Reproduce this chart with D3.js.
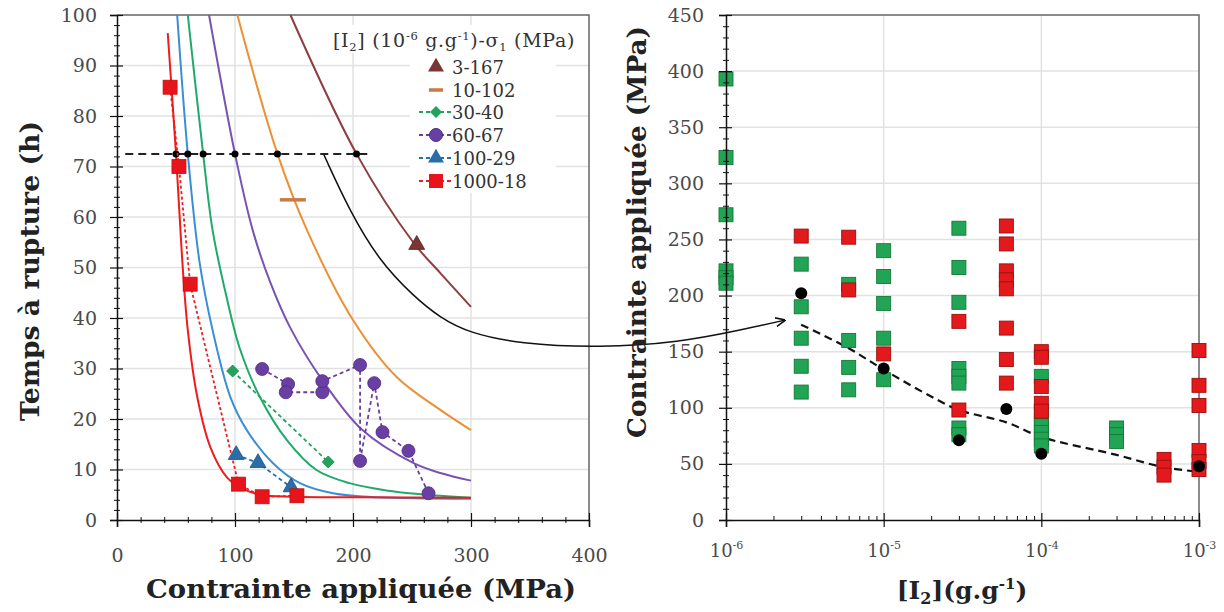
<!DOCTYPE html>
<html><head><meta charset="utf-8">
<script src="https://cdn.jsdelivr.net/npm/d3@7"></script>
<style>
html,body{margin:0;padding:0;background:#fff;}
svg{display:block;}
</style></head>
<body>
<svg id="c" width="1224" height="612"></svg>
<script>
// ---------- Left chart data (Contrainte MPa, Temps h) ----------
const fitRed    = [[43,96.4],[50,72.5],[55,52.5],[60,37.6],[68,24.4],[79,14.5],[93,8.5],[104,6.5],[121,5.0],[150,4.6],[200,4.5],[300,4.4]];
const fitBlue   = [[51,100],[60,72.5],[70,51],[81,37.6],[96,24.4],[110,17.8],[132,11.3],[155,7.3],[183,5.3],[220,4.5],[300,4.2]];
const fitGreen  = [[60,100],[73,72.5],[81,57.4],[93,44],[104,34],[121,24.4],[144,15.8],[169,9.9],[197,7.3],[230,5.8],[257,5.1],[300,4.4]];
const fitPurple = [[78,100],[100,72.5],[115,57.4],[130,47],[147,38],[174,27.7],[208,17.8],[251,11.3],[274,9.3],[300,7.8]];
const fitOrange = [[102,100],[136,72.5],[161,57.4],[200,39.6],[237,28.3],[274,21.8],[300,17.8]];
const fitBrown  = [[147,100],[203,72.5],[251,55],[274,48.9],[300,42.2]];

const ptsRed    = [[45,85.7],[52.5,70],[62,46.7],[103,7.1],[123,4.6],[152.5,4.8]];
const ptsBlue   = [[101,12.9],[119.5,11.3],[147.5,6.5]];
const ptsGreen  = [[98,29.5],[179,11.5]];
const ptsPurple = [[123,29.9],[145,26.9],[143,25.3],[174,25.3],[174,27.5],[206,30.7],[206,11.7],[218,27.1],[225,17.4],[247,13.7],[264,5.3]];
const ptsBrown  = [[254,54.5]];
const ptsOrange = [[149,63.4]];

const level72 = 72.5;
const level72Range = [7, 216];
const level72Dots = [50, 60, 73, 100, 136, 203];

const legendLabels = ["3-167","10-102","30-40","60-67","100-29","1000-18"];

// ---------- Right chart data ([I2] g/g, Contrainte MPa) ----------
const greenX = [1e-6,1e-6,1e-6,1e-6,1e-6,1e-6, 3e-6,3e-6,3e-6,3e-6,3e-6, 6e-6,6e-6,6e-6,6e-6, 1e-5,1e-5,1e-5,1e-5,1e-5, 3e-5,3e-5,3e-5,3e-5,3e-5,3e-5,3e-5,3e-5, 1e-4,1e-4,1e-4,1e-4,1e-4,1e-4, 3e-4,3e-4,3e-4];
const greenY = [393,323,272,222,216,211, 228,190,162,137,114, 210,160,136,116, 240,217,193,162,125, 260,225,194,135,128,122,82,76, 128,90,84,78,72,66, 82,76,70];
const redX = [3e-6, 6e-6,6e-6, 1e-5, 3e-5,3e-5, 6e-5,6e-5,6e-5,6e-5,6e-5,6e-5,6e-5,6e-5, 1e-4,1e-4,1e-4,1e-4,1e-4, 6e-4,6e-4,6e-4, 1e-3,1e-3,1e-3,1e-3,1e-3,1e-3];
const redY = [253, 252,205, 148, 177,98, 262,246,222,214,206,171,143,122, 150,145,119,104,97, 54,47,40, 151,120,102,62,52,45];
const blackX = [3e-6,1e-5,3e-5,6e-5,1e-4,1e-3];
const blackY = [202,135,71,99,59,48];
const trendX = [3e-6,6e-6,1e-5,2e-5,3e-5,6e-5,1e-4,3e-4,6e-4,1e-3];
const trendY = [174,153,134,110,98,87,74,58,47,43];

// Arrow annotation: starts on the left chart (MPa, h), ends on right chart ([I2], MPa)
const arrowLeft = [[175,72.5],[197.5,61],[223,51.1],[251,44.4],[274,40],[299,37],[341,34.9],[409,34.1],[477,35.2],[528,37.6]];
const arrowEnd = [2.35e-6, 178];

// ---------- Setup ----------
const svg = d3.select("#c");
const SERIF = "'DejaVu Serif', serif";
const xL = d3.scaleLinear([0,400],[117,589]);
const yL = d3.scaleLinear([0,100],[520,15]);
const xR = d3.scaleLog([1e-6,1e-3],[726,1199]);
const yR = d3.scaleLinear([0,450],[520,15]);

const C = {
  red:"#ee1c1c", redFill:"#e8141c",
  blue:"#3a8fd4", blueFill:"#2a6ea8",
  green:"#1faa6a", greenFill:"#22a35c",
  purple:"#7a52b3", purpleFill:"#6a3fa4", purpleStroke:"#4a2a80",
  orange:"#ee8f33", orangeMark:"#c97a45",
  brown:"#8e3e3e", brownFill:"#7b3535",
  sqGreen:"#21a455", sqGreenStroke:"#127a33",
  sqRed:"#e3191c", sqRedStroke:"#9a1010",
  grid:"#e2e2e2"
};

// ---------- Gridlines ----------
const gL = svg.append("g");
gL.selectAll("line.h").data(d3.range(10,100,10)).join("line")
  .attr("x1",xL(0)).attr("x2",xL(400)).attr("y1",d=>yL(d)).attr("y2",d=>yL(d))
  .attr("stroke",C.grid).attr("stroke-width",1.5);
gL.selectAll("line.v").data([100,200,300]).join("line")
  .attr("y1",yL(0)).attr("y2",yL(100)).attr("x1",d=>xL(d)).attr("x2",d=>xL(d))
  .attr("stroke",C.grid).attr("stroke-width",1.5);

const gR = svg.append("g");
gR.selectAll("line.h").data(d3.range(50,450,50)).join("line")
  .attr("x1",xR(1e-6)).attr("x2",xR(1e-3)).attr("y1",d=>yR(d)).attr("y2",d=>yR(d))
  .attr("stroke",C.grid).attr("stroke-width",1.5);
gR.selectAll("line.v").data([1e-5,1e-4]).join("line")
  .attr("y1",yR(0)).attr("y2",yR(450)).attr("x1",d=>xR(d)).attr("x2",d=>xR(d))
  .attr("stroke",C.grid).attr("stroke-width",1.5);

// ---------- Frames ----------
svg.append("path").attr("d",`M${xL(0)},${yL(100)}H${xL(400)}V${yL(0)}`).attr("fill","none").attr("stroke","#666").attr("stroke-width",1.5);
svg.append("path").attr("d",`M${xR(1e-6)},${yR(450)}H${xR(1e-3)}V${yR(0)}`).attr("fill","none").attr("stroke","#666").attr("stroke-width",1.5);

// ---------- Left chart: legend background ----------
svg.append("rect").attr("x",330).attr("y",25).attr("width",258).attr("height",28).attr("fill","#fff");
svg.append("rect").attr("x",410).attr("y",53).attr("width",146).attr("height",140).attr("fill","#fff");

// ---------- Left chart: curves ----------
const lineL = d3.line().x(d=>xL(d[0])).y(d=>yL(d[1])).curve(d3.curveCatmullRom.alpha(0.5));
const lineLin = d3.line().x(d=>xL(d[0])).y(d=>yL(d[1]));
const fits = [[fitBrown,C.brown],[fitOrange,C.orange],[fitPurple,C.purple],[fitGreen,C.green],[fitBlue,C.blue],[fitRed,C.red]];
fits.forEach(([d,c])=>{
  svg.append("path").attr("d",lineL(d)).attr("fill","none").attr("stroke",c).attr("stroke-width",2);
});

// Black arrow annotation
const defs = svg.append("defs");
defs.append("marker").attr("id","ah").attr("viewBox","0 0 10 10").attr("refX",9).attr("refY",5)
  .attr("markerWidth",10).attr("markerHeight",10).attr("markerUnits","userSpaceOnUse").attr("orient","auto")
  .append("path").attr("d","M0,0.5L10,5L0,9.5").attr("fill","none").attr("stroke","#111").attr("stroke-width",1.6);
const arrowPts = arrowLeft.map(d=>[xL(d[0]),yL(d[1])]).concat([[xR(arrowEnd[0]),yR(arrowEnd[1])]]);
svg.append("path").attr("d",d3.line().curve(d3.curveBasis)(arrowPts))
  .attr("fill","none").attr("stroke","#111").attr("stroke-width",1.5).attr("marker-end","url(#ah)");

// 72.5 h dashed level
svg.append("line").attr("x1",xL(level72Range[0])).attr("x2",xL(level72Range[1]))
  .attr("y1",yL(level72)).attr("y2",yL(level72))
  .attr("stroke","#222").attr("stroke-width",2).attr("stroke-dasharray","8,5");
svg.selectAll("circle.l72").data(level72Dots).join("circle")
  .attr("cx",d=>xL(d)).attr("cy",yL(level72)).attr("r",3.5).attr("fill","#000");

// Data series lines
svg.append("path").attr("d",lineLin(ptsGreen)).attr("fill","none").attr("stroke",C.greenFill).attr("stroke-width",1.8).attr("stroke-dasharray","4,3");
svg.append("path").attr("d",lineLin(ptsPurple)).attr("fill","none").attr("stroke",C.purpleFill).attr("stroke-width",1.8).attr("stroke-dasharray","4,3");
svg.append("path").attr("d",lineLin(ptsBlue)).attr("fill","none").attr("stroke",C.blueFill).attr("stroke-width",1.8).attr("stroke-dasharray","4,3");
svg.append("path").attr("d",lineLin(ptsRed)).attr("fill","none").attr("stroke",C.red).attr("stroke-width",1.8).attr("stroke-dasharray","3,2.5");

// Markers
const diamond = d3.symbol().type(d3.symbolSquare).size(72);
svg.selectAll("path.gd").data(ptsGreen).join("path")
  .attr("d",diamond).attr("transform",d=>`translate(${xL(d[0])},${yL(d[1])}) rotate(45)`)
  .attr("fill",C.greenFill).attr("stroke","#138a45").attr("stroke-width",0.8);
svg.selectAll("circle.pc").data(ptsPurple).join("circle")
  .attr("cx",d=>xL(d[0])).attr("cy",d=>yL(d[1])).attr("r",6.5)
  .attr("fill",C.purpleFill).attr("stroke",C.purpleStroke).attr("stroke-width",0.8);
const tri = d3.symbol().type(d3.symbolTriangle).size(110);
svg.selectAll("path.bt").data(ptsBlue).join("path")
  .attr("d",tri).attr("transform",d=>`translate(${xL(d[0])},${yL(d[1])})`)
  .attr("fill",C.blueFill).attr("stroke","#1a4f80").attr("stroke-width",0.8);
svg.selectAll("rect.rs").data(ptsRed).join("rect")
  .attr("x",d=>xL(d[0])-7).attr("y",d=>yL(d[1])-7).attr("width",14).attr("height",14)
  .attr("fill",C.redFill).attr("stroke","#c01010").attr("stroke-width",0.8);
svg.selectAll("path.brt").data(ptsBrown).join("path")
  .attr("d",tri).attr("transform",d=>`translate(${xL(d[0])},${yL(d[1])})`)
  .attr("fill",C.brownFill).attr("stroke","#5a2020").attr("stroke-width",0.8);
svg.selectAll("line.om").data(ptsOrange).join("line")
  .attr("x1",d=>xL(d[0])-13).attr("x2",d=>xL(d[0])+13).attr("y1",d=>yL(d[1])).attr("y2",d=>yL(d[1]))
  .attr("stroke",C.orangeMark).attr("stroke-width",3.5);

// ---------- Legend ----------
const lg = svg.append("g").attr("font-family",SERIF).attr("fill","#333");
const lt = lg.append("text").attr("x",333).attr("y",47).attr("font-size",19).attr("letter-spacing",0.7);
lt.append("tspan").text("[I");
lt.append("tspan").attr("font-size",11.5).attr("dy",4).text("2");
lt.append("tspan").attr("dy",-4).text("] (10");
lt.append("tspan").attr("font-size",11.5).attr("dy",-7).text("-6");
lt.append("tspan").attr("dy",7).text(" g.g");
lt.append("tspan").attr("font-size",11.5).attr("dy",-7).text("-1");
lt.append("tspan").attr("dy",7).text(")-σ");
lt.append("tspan").attr("font-size",11.5).attr("dy",4).text("1");
lt.append("tspan").attr("dy",-4).text(" (MPa)");

const legRowY = [67,90,112,135,158,181];
const mx = 436;
legendLabels.forEach((lab,i)=>{
  const y = legRowY[i];
  lg.append("text").attr("x",452).attr("y",y+6.5).attr("font-size",18).text(lab);
});
lg.append("path").attr("d",tri).attr("transform",`translate(${mx},${legRowY[0]})`).attr("fill",C.brownFill);
lg.append("line").attr("x1",mx-7).attr("x2",mx+7).attr("y1",legRowY[1]).attr("y2",legRowY[1]).attr("stroke",C.orangeMark).attr("stroke-width",3.5);
[[2,C.greenFill],[3,C.purpleFill],[4,C.blueFill],[5,C.red]].forEach(([i,c])=>{
  lg.append("line").attr("x1",mx-17).attr("x2",mx+16).attr("y1",legRowY[i]).attr("y2",legRowY[i])
    .attr("stroke",c).attr("stroke-width",1.8).attr("stroke-dasharray","4,3");
});
lg.append("path").attr("d",diamond).attr("transform",`translate(${mx},${legRowY[2]}) rotate(45)`).attr("fill",C.greenFill);
lg.append("circle").attr("cx",mx).attr("cy",legRowY[3]).attr("r",6.5).attr("fill",C.purpleFill).attr("stroke",C.purpleStroke);
lg.append("path").attr("d",tri).attr("transform",`translate(${mx},${legRowY[4]})`).attr("fill",C.blueFill);
lg.append("rect").attr("x",mx-7).attr("y",legRowY[5]-7).attr("width",14).attr("height",14).attr("fill",C.redFill);

// ---------- Right chart marks ----------
svg.append("path").attr("d",d3.line().x(d=>xR(d[0])).y(d=>yR(d[1])).curve(d3.curveCatmullRom.alpha(0.5))(trendX.map((x,i)=>[x,trendY[i]])))
  .attr("fill","none").attr("stroke","#111").attr("stroke-width",2.2).attr("stroke-dasharray","8,5");
svg.selectAll("rect.gs").data(greenX.map((x,i)=>[x,greenY[i]])).join("rect")
  .attr("x",d=>xR(d[0])-7).attr("y",d=>yR(d[1])-7).attr("width",14).attr("height",14)
  .attr("fill",C.sqGreen).attr("stroke",C.sqGreenStroke).attr("stroke-width",0.9);
svg.selectAll("rect.rq").data(redX.map((x,i)=>[x,redY[i]])).join("rect")
  .attr("x",d=>xR(d[0])-7).attr("y",d=>yR(d[1])-7).attr("width",14).attr("height",14)
  .attr("fill",C.sqRed).attr("stroke",C.sqRedStroke).attr("stroke-width",0.9);
svg.selectAll("circle.bk").data(blackX.map((x,i)=>[x,blackY[i]])).join("circle")
  .attr("cx",d=>xR(d[0])).attr("cy",d=>yR(d[1])).attr("r",6).attr("fill","#000");

// ---------- Axes ----------
const TICKFS = 19;
function styleAxis(g){
  g.select(".domain").attr("stroke","#111").attr("stroke-width",1.5);
  g.selectAll(".tick line").attr("stroke","#111").attr("stroke-width",1.2);
  g.selectAll(".tick text").attr("font-family",SERIF).attr("font-size",TICKFS).attr("fill","#4a4a4a");
}
// Left Y
const ayL = svg.append("g").attr("transform",`translate(${xL(0)},0)`)
  .call(d3.axisLeft(yL).tickValues(d3.range(0,101,10)).tickSize(7).tickPadding(13).tickFormat(d3.format("d")));
styleAxis(ayL); ayL.selectAll(".tick line").attr("x1",6);
const ayLm = svg.append("g").attr("transform",`translate(${xL(0)},0)`)
  .call(d3.axisLeft(yL).tickValues(d3.range(2,100,2).filter(v=>v%10)).tickSize(3).tickFormat(""));
ayLm.select(".domain").remove(); ayLm.selectAll(".tick line").attr("stroke","#111").attr("x1",3);
// Left X
const axL = svg.append("g").attr("transform",`translate(0,${yL(0)})`)
  .call(d3.axisBottom(xL).tickValues(d3.range(0,401,100)).tickSize(7).tickPadding(22).tickFormat(d3.format("d")));
styleAxis(axL); axL.selectAll(".tick line").attr("y1",-7);
const axLm = svg.append("g").attr("transform",`translate(0,${yL(0)})`)
  .call(d3.axisBottom(xL).tickValues(d3.range(20,400,20).filter(v=>v%100)).tickSize(3).tickFormat(""));
axLm.select(".domain").remove(); axLm.selectAll(".tick line").attr("stroke","#111").attr("y1",-3);

// Right Y
const ayR = svg.append("g").attr("transform",`translate(${xR(1e-6)},0)`)
  .call(d3.axisLeft(yR).tickValues(d3.range(0,451,50)).tickSize(7).tickPadding(15).tickFormat(d3.format("d")));
styleAxis(ayR); ayR.selectAll(".tick line").attr("x1",6);
const ayRm = svg.append("g").attr("transform",`translate(${xR(1e-6)},0)`)
  .call(d3.axisLeft(yR).tickValues(d3.range(10,450,10).filter(v=>v%50)).tickSize(3).tickFormat(""));
ayRm.select(".domain").remove(); ayRm.selectAll(".tick line").attr("stroke","#111").attr("x1",3);
// Right X (log)
const majorR = [1e-6,1e-5,1e-4,1e-3];
const expR = ["-6","-5","-4","-3"];
const axR = svg.append("g").attr("transform",`translate(0,${yR(0)})`)
  .call(d3.axisBottom(xR).tickValues(majorR).tickSize(7).tickFormat(""));
styleAxis(axR); axR.selectAll(".tick line").attr("y1",-7);
axR.selectAll(".tick").each(function(d,i){
  const t = d3.select(this).append("text").attr("y",37).attr("text-anchor","middle")
    .attr("font-family",SERIF).attr("font-size",18).attr("fill","#4a4a4a");
  t.append("tspan").text("10");
  t.append("tspan").attr("dy",-8).attr("font-size",11).text(expR[i]);
});
const minorR = [];
[1e-6,1e-5,1e-4].forEach(b=>{ for(let k=2;k<=9;k++) minorR.push(b*k); });
const axRm = svg.append("g").attr("transform",`translate(0,${yR(0)})`)
  .call(d3.axisBottom(xR).tickValues(minorR).tickSize(0).tickFormat(""));
axRm.select(".domain").remove();
axRm.selectAll(".tick line").attr("stroke","#111").attr("y1",-4).attr("y2",0);

// ---------- Titles ----------
const tt = svg.append("g").attr("font-family",SERIF).attr("font-weight","bold").attr("fill","#222").attr("font-size",26);
tt.append("text").attr("x",361).attr("y",598).attr("text-anchor","middle")
  .attr("textLength",430).attr("lengthAdjust","spacingAndGlyphs").text("Contrainte appliquée (MPa)");
tt.append("text").attr("transform","translate(39,271) rotate(-90)").attr("text-anchor","middle")
  .attr("textLength",300).attr("lengthAdjust","spacingAndGlyphs").text("Temps à rupture (h)");
tt.append("text").attr("transform","translate(646,232) rotate(-90)").attr("text-anchor","middle")
  .attr("textLength",412).attr("lengthAdjust","spacingAndGlyphs").text("Contrainte appliquée (MPa)");
const xt = tt.append("text").attr("x",962).attr("y",599).attr("text-anchor","middle").attr("font-size",25);
xt.append("tspan").text("[I");
xt.append("tspan").attr("font-size",16).attr("dy",5).text("2");
xt.append("tspan").attr("dy",-5).text("](g.g");
xt.append("tspan").attr("font-size",15).attr("dy",-10).text("-1");
xt.append("tspan").attr("dy",10).text(")");
</script>
</body></html>
